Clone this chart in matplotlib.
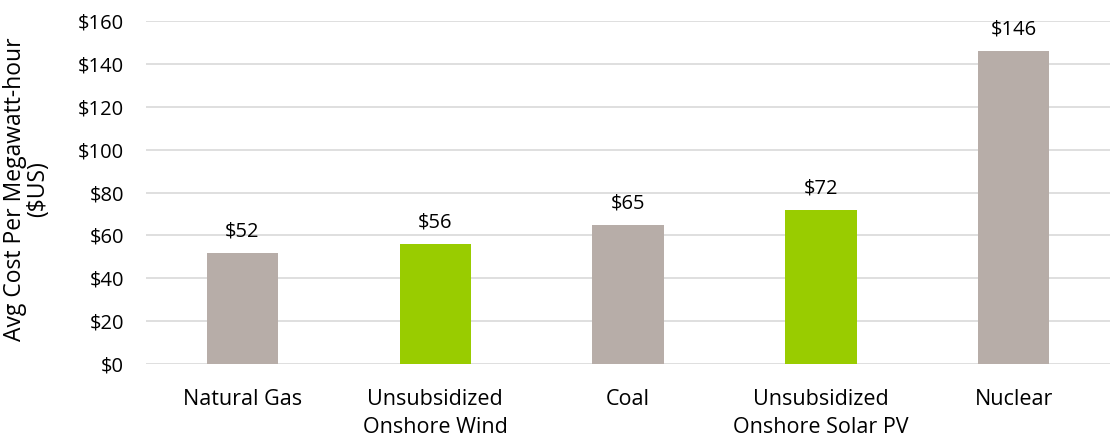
import matplotlib
matplotlib.use("Agg")
import matplotlib.pyplot as plt

categories = ["Natural Gas", "Unsubsidized\nOnshore Wind", "Coal", "Unsubsidized\nOnshore Solar PV", "Nuclear"]
values = [52, 56, 65, 72, 146]
colors = ["#b7ada8", "#99cc00", "#b7ada8", "#99cc00", "#b7ada8"]
yticks = [0, 20, 40, 60, 80, 100, 120, 140, 160]

plt.rcParams['font.family'] = ['Open Sans', 'DejaVu Sans']
fig = plt.figure(figsize=(11.19, 4.43), dpi=100)
ax = fig.add_axes([0.1305, 0.178, 0.8615, 0.7746])
x = list(range(len(categories)))
ax.bar(x, values, width=0.37, color=colors, zorder=3)
for xi, v in zip(x, values):
    ax.annotate(f"${v}", (xi, v), xytext=(0, 8), textcoords="offset points",
                ha="center", va="bottom", fontsize=14.5, color="#000000")
ax.set_ylim(0, 160)
ax.set_xlim(-0.5, len(categories) - 0.5)
ax.set_yticks(yticks)
ax.set_yticklabels([f"${t}" for t in yticks], fontsize=14.5)
ax.set_xticks(x)
ax.set_xticklabels(categories, fontsize=15.5, linespacing=1.45)
ax.yaxis.grid(True, color="#d9d9d9", linewidth=1.2, zorder=0)
for s in ax.spines.values():
    s.set_visible(False)
ax.tick_params(axis='both', length=0)
ax.tick_params(axis='y', pad=16)
ax.tick_params(axis='x', pad=18)
ax.set_ylabel("Avg Cost Per Megawatt-hour\n($US)", fontsize=16.5, linespacing=0.95)
ax.yaxis.set_label_coords(-0.099, 0.51)
fig.savefig("out.png", dpi=100)
